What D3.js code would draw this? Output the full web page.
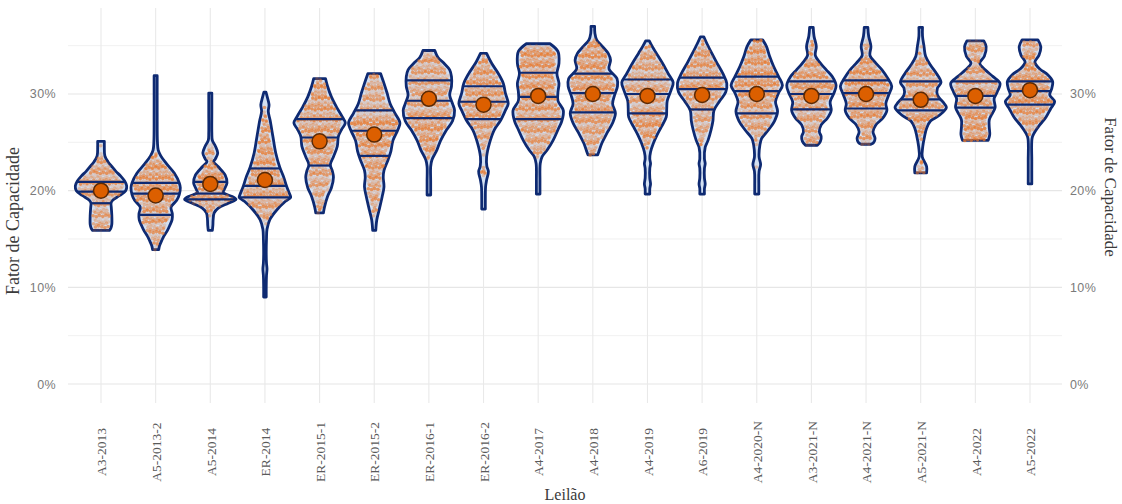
<!DOCTYPE html>
<html>
<head>
<meta charset="utf-8">
<script src="https://cdn.jsdelivr.net/npm/d3@7"></script>
<style>
  html, body { margin: 0; padding: 0; background: #fff; }
  svg { display: block; }
</style>
</head>
<body>
<svg id="chart" width="1122" height="504"></svg>
<script>
// Leilões (auctions) shown along the x axis
const categories = ["A3-2013","A5-2013-2","A5-2014","ER-2014","ER-2015-1","ER-2015-2","ER-2016-1","ER-2016-2",
  "A4-2017","A4-2018","A4-2019","A6-2019","A4-2020-N","A3-2021-N","A4-2021-N","A5-2021-N","A4-2022","A5-2022"];

// Mean capacity factor (%) per auction
const means = [20.0,19.5,20.7,21.1,25.1,25.8,29.5,28.9,29.8,30.0,29.8,29.9,30.0,29.8,30.0,29.4,29.8,30.4];

// Quartiles (%) drawn inside each violin
const q25 = [18.7,17.5,19.1,19.3,22.6,23.6,27.5,27.4,27.4,28.1,28.0,28.4,28.0,28.4,28.5,28.3,28.6,28.9];
const q50 = [19.9,19.7,19.7,20.5,25.5,26.2,29.3,29.2,29.7,30.1,30.0,30.5,30.3,30.0,30.1,29.45,29.8,30.3];
const q75 = [20.9,20.8,20.9,22.3,27.4,28.3,31.4,30.8,32.2,32.1,31.5,31.7,31.8,31.3,31.4,31.3,31.3,31.3];

// Density profile of each violin: [capacity factor %, relative density 0..1], top to bottom
const densityA3_2013 = [[25.1,.13],[24.5,.13],[23.6,.15],[23.0,.27],[22.5,.42],[22.0,.58],[21.5,.77],[21.0,.92],[20.5,1.0],[20.0,.96],[19.5,.73],[19.0,.45],[18.7,.39],[18.3,.40],[17.5,.42],[16.5,.42],[16.1,.38],[15.9,.33]];
const densityA5_2013_2 = [[31.9,.06],[28,.06],[25,.07],[24.2,.10],[23.6,.20],[22.8,.42],[21.8,.73],[20.8,.92],[20.3,.96],[19.6,.92],[19.0,.82],[18.3,.60],[17.6,.65],[17.0,.64],[16.4,.55],[15.9,.46],[15.3,.32],[14.8,.23],[14.3,.15],[13.9,.12]];
const densityA5_2014 = [[30.1,.06],[28,.06],[26,.06],[25.2,.08],[24.6,.20],[23.9,.29],[23.3,.20],[23.0,.13],[22.5,.30],[21.6,.58],[20.8,.65],[20.1,.54],[19.8,.50],[19.4,.85],[19.1,1.0],[18.7,.70],[18.2,.31],[17.7,.15],[17,.11],[16.4,.1],[15.9,.08]];
const densityER_2014 = [[30.2,.04],[29.6,.10],[28.9,.16],[28.2,.13],[27.3,.20],[25.6,.31],[23.9,.42],[22.4,.58],[21.4,.73],[20.4,.85],[19.6,.97],[19.3,1.0],[18.9,.80],[18.0,.46],[17.0,.19],[16.0,.08],[15,.06],[13.5,.05],[12.5,.06],[11.9,.08],[11.2,.06],[10,.05],[9.0,.05]];
const densityER_2015_1 = [[31.6,.23],[30.8,.31],[29.7,.46],[28.7,.65],[27.65,.88],[27.0,1.0],[26.3,.85],[25.6,.73],[24.6,.69],[23.5,.54],[22.7,.42],[22.0,.50],[21.4,.54],[20.3,.46],[19.4,.31],[18.3,.19],[17.7,.15]];
const densityER_2015_2 = [[32.1,.25],[31.1,.38],[30.1,.50],[29.0,.62],[28.0,.81],[27.0,1.0],[26.3,.92],[25.2,.73],[24.1,.65],[23.2,.54],[22.1,.38],[21.4,.35],[20.4,.38],[19.4,.31],[18.0,.19],[17.0,.10],[15.9,.06]];
const densityER_2016_1 = [[34.5,.23],[33.8,.35],[33.2,.58],[32.5,.81],[31.8,.88],[30.8,.88],[29.9,.81],[29.0,.92],[28.3,1.0],[27.2,.92],[26.3,.69],[25.2,.46],[24.2,.31],[23.2,.12],[22.5,.07],[21,.07],[19.55,.07]];
const densityER_2016_2 = [[34.2,.12],[33.2,.31],[32.1,.58],[31.1,.77],[30.1,.85],[29.0,.96],[28.3,.85],[27.2,.65],[26.3,.42],[24.9,.23],[23.5,.12],[22.5,.13],[22.0,.19],[21.1,.12],[20.4,.08],[19,.07],[18.1,.07]];
const densityA4_2017 = [[35.2,.46],[34.4,.77],[33.2,.81],[32.1,.73],[31.1,.81],[30.2,.77],[29.3,.77],[28.3,.98],[27.2,.92],[26.3,.77],[25.2,.58],[24.2,.35],[23.5,.15],[22.8,.08],[21,.07],[19.65,.07]];
const densityA4_2018 = [[37.0,.07],[36.3,.08],[35.6,.15],[34.9,.38],[34.2,.60],[33.5,.69],[32.6,.63],[31.6,.94],[30.8,.96],[29.9,.85],[29.0,.77],[28.0,.88],[27.0,.77],[25.9,.54],[24.9,.35],[24.0,.23],[23.7,.19]];
const densityA4_2019 = [[35.5,.07],[34.9,.19],[34.2,.35],[33.2,.58],[32.1,.81],[31.2,1.0],[30.4,.92],[29.3,.77],[28.5,.75],[27.6,.73],[26.6,.54],[25.8,.38],[24.9,.23],[24.0,.12],[23.3,.09],[22.8,.12],[22.3,.09],[21.3,.09],[20.7,.12],[20.2,.09],[19.65,.09]];
const densityA6_2019 = [[35.9,.07],[35.2,.19],[34.2,.38],[33.2,.58],[32.1,.81],[31.1,.96],[30.2,.92],[29.3,.69],[28.3,.46],[27.2,.42],[26.3,.35],[25.2,.23],[24.5,.12],[23.3,.09],[22.8,.12],[22.3,.09],[21.3,.09],[20.7,.12],[20.2,.09],[19.65,.09]];
const densityA4_2020_N = [[35.6,.23],[34.9,.38],[33.9,.50],[32.9,.65],[31.8,.85],[30.9,1.0],[30.1,.85],[29.2,.73],[28.2,.81],[27.2,.69],[26.3,.46],[25.4,.19],[24.7,.12],[23.5,.09],[22.7,.15],[22.0,.09],[20.5,.08],[19.65,.08]];
const densityA3_2021_N = [[36.9,.07],[36.0,.10],[34.9,.19],[34.0,.15],[33.2,.35],[32.5,.58],[31.8,.81],[30.9,.96],[30.1,.88],[29.2,.73],[28.3,.77],[27.5,.62],[26.8,.38],[26.1,.31],[25.6,.38],[25.1,.35],[24.7,.23]];
const densityA4_2021_N = [[36.9,.07],[36.0,.10],[34.9,.19],[34.0,.15],[33.2,.38],[32.5,.62],[31.6,.85],[30.8,1.0],[29.9,.88],[29.0,.77],[28.3,.81],[27.5,.65],[26.8,.38],[26.1,.27],[25.4,.35],[25.0,.30],[24.8,.19]];
const densityA5_2021_N = [[36.9,.07],[36,.07],[34.9,.13],[33.9,.19],[33.0,.38],[32.1,.62],[31.2,.79],[30.6,.65],[29.9,.65],[29.0,.92],[28.6,1.0],[27.8,.73],[27.2,.38],[26.45,.23],[25.6,.15],[24.55,.08],[23.5,.06],[22.5,.23],[21.85,.23]];
const densityA4_2022 = [[35.5,.33],[34.9,.42],[33.9,.35],[33.2,.17],[32.5,.38],[31.8,.69],[31.1,.96],[30.2,.85],[29.5,.73],[28.6,.77],[27.8,.62],[27.3,.54],[26.6,.54],[25.8,.56],[25.2,.50]];
const densityA5_2022 = [[35.6,.31],[34.9,.42],[34.0,.35],[33.3,.19],[32.6,.38],[32.0,.69],[31.3,.88],[30.6,.85],[29.9,.77],[29.2,.96],[28.5,.81],[27.6,.62],[26.8,.38],[25.9,.15],[25.4,.08],[23,.07],[20.7,.07]];

const profiles = [densityA3_2013, densityA5_2013_2, densityA5_2014, densityER_2014, densityER_2015_1, densityER_2015_2,
  densityER_2016_1, densityER_2016_2, densityA4_2017, densityA4_2018, densityA4_2019, densityA6_2019,
  densityA4_2020_N, densityA3_2021_N, densityA4_2021_N, densityA5_2021_N, densityA4_2022, densityA5_2022];

const yTicks = [0, 10, 20, 30];
const yMinorTicks = [5, 15, 25, 35];

// ---- layout ----
const panel = { left: 68, right: 1062, top: 8, bottom: 403 };
const svg = d3.select("#chart");

const x = d3.scalePoint().domain(categories).range([101, 1030]);
const y = d3.scaleLinear().domain([0, 37]).range([384, 384 - 37 * 9.6667]);
const halfWidth = d3.scaleLinear().domain([0, 1]).range([0, x.step() * 0.47]);

// ---- grid ----
const grid = svg.append("g");
grid.selectAll("line.minor").data(yMinorTicks).join("line")
  .attr("x1", panel.left).attr("x2", panel.right)
  .attr("y1", d => y(d)).attr("y2", d => y(d))
  .attr("stroke", "#efefef").attr("stroke-width", 0.9);
grid.selectAll("line.major").data(yTicks).join("line")
  .attr("x1", panel.left).attr("x2", panel.right)
  .attr("y1", d => y(d)).attr("y2", d => y(d))
  .attr("stroke", "#e6e6e6").attr("stroke-width", 1.2);
grid.selectAll("line.vert").data(categories).join("line")
  .attr("x1", d => x(d)).attr("x2", d => x(d))
  .attr("y1", panel.top).attr("y2", panel.bottom)
  .attr("stroke", "#e9e9e9").attr("stroke-width", 1.1);

// ---- axes ----
const fmt = d => d + "%";
const leftAxis = svg.append("g").attr("transform", `translate(${panel.left},0)`)
  .call(d3.axisLeft(y).tickValues(yTicks).tickFormat(fmt).tickSize(0).tickPadding(12));
const rightAxis = svg.append("g").attr("transform", `translate(${panel.right},0)`)
  .call(d3.axisRight(y).tickValues(yTicks).tickFormat(fmt).tickSize(0).tickPadding(8));
[leftAxis, rightAxis].forEach(g => {
  g.select(".domain").remove();
  g.selectAll("text").attr("font-family", "'Liberation Sans', Arial, sans-serif")
    .attr("font-size", 12.5).attr("fill", "#7a7a7a").attr("letter-spacing", 0.4);
});

const bottomAxis = svg.append("g").attr("transform", "translate(0,452)")
  .call(d3.axisBottom(x).tickSize(0));
bottomAxis.select(".domain").remove();
bottomAxis.selectAll("text")
  .attr("x", 0).attr("y", 0).attr("dy", "0.35em")
  .attr("transform", "rotate(-90)")
  .style("text-anchor", "middle")
  .attr("font-family", "'Liberation Serif', 'Times New Roman', serif")
  .attr("font-size", 13.5).attr("fill", "#5a5a5a");

// axis titles
svg.append("text").attr("transform", "translate(19,221) rotate(-90)")
  .attr("text-anchor", "middle").attr("font-family", "'Liberation Serif', 'Times New Roman', serif")
  .attr("font-size", 18).attr("fill", "#3a3a3a").text("Fator de Capacidade");
svg.append("text").attr("transform", "translate(1105,187) rotate(90)")
  .attr("text-anchor", "middle").attr("font-family", "'Liberation Serif', 'Times New Roman', serif")
  .attr("font-size", 17).attr("fill", "#3a3a3a").text("Fator de Capacidade");
svg.append("text").attr("x", 565).attr("y", 500)
  .attr("text-anchor", "middle").attr("font-family", "'Liberation Serif', 'Times New Roman', serif")
  .attr("font-size", 16).attr("fill", "#3a3a3a").text("Leilão");

// ---- violins ----
const navy = "#0e2a72";
function densityAt(profile, v) {
  for (let i = 0; i < profile.length - 1; i++) {
    const [va, da] = profile[i], [vb, db] = profile[i + 1];
    if (v <= va && v >= vb) return da + (db - da) * (va - v) / (va - vb);
  }
  return 0;
}

const violins = svg.append("g").selectAll("g.violin")
  .data(categories.map((c, i) => ({ cat: c, i, profile: profiles[i] })))
  .join("g");

violins.each(function(d) {
  const g = d3.select(this);
  const cx = x(d.cat);
  const area = d3.area()
    .curve(d3.curveCatmullRom.alpha(0.5))
    .y(p => y(p[0]))
    .x0(p => cx - halfWidth(p[1]))
    .x1(p => cx + halfWidth(p[1]));

  g.append("path").attr("d", area(d.profile))
    .attr("fill", "#d3e0f2").attr("stroke", navy).attr("stroke-width", 2.8)
    .attr("stroke-linejoin", "round");

  // observation stipple following the density outline
  const vTop = d.profile[0][0], vBot = d.profile[d.profile.length - 1][0];
  const rowStep = 0.28, spacing = 3.2;
  const dots = [];
  let row = 0;
  for (let v = vBot + 0.1; v <= vTop - 0.05; v += rowStep, row++) {
    const w = halfWidth(densityAt(d.profile, v)) - 2.6;
    if (w < 0.6) continue;
    const shift = ((row * 0.618034) % 1) * spacing;
    const alpha = 0.18 + 0.62 * ((row * 0.754878 + d.i * 0.31) % 1);
    let k = 0;
    for (let dx = -w + shift; dx <= w; dx += spacing, k++) {
      const dy = (((k * 0.569840 + row * 0.3) % 1) - 0.5) * 0.2;
      dots.push({ x: cx + dx, v: v + dy, a: alpha });
    }
  }
  g.selectAll("circle.obs").data(dots).join("circle")
    .attr("cx", p => p.x).attr("cy", p => y(p.v)).attr("r", 1.8)
    .attr("fill", "#e8772a").attr("fill-opacity", p => p.a);

  // quartile lines on top of the stipple
  [q25[d.i], q50[d.i], q75[d.i]].forEach(q => {
    const w = halfWidth(densityAt(d.profile, q));
    g.append("line").attr("x1", cx - w).attr("x2", cx + w)
      .attr("y1", y(q)).attr("y2", y(q))
      .attr("stroke", navy).attr("stroke-width", 2.2);
  });
});

// ---- means ----
svg.append("g").selectAll("circle").data(categories).join("circle")
  .attr("cx", d => x(d)).attr("cy", (d, i) => y(means[i])).attr("r", 7.5)
  .attr("fill", "#dc5f00").attr("stroke", "#5b2a06").attr("stroke-width", 1.5);
</script>
</body>
</html>
